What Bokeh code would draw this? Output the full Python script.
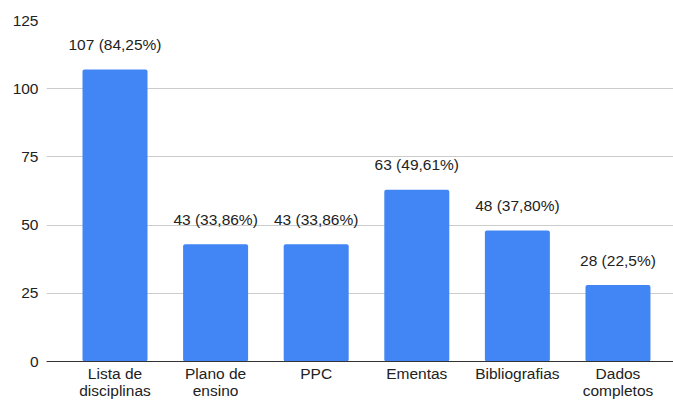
from bokeh.plotting import figure
from bokeh.models import ColumnDataSource, FixedTicker, Range1d
from bokeh.embed import file_html
from bokeh.resources import INLINE
from bokeh.core.properties import value

categories = ["Lista de\ndisciplinas", "Plano de\nensino", "PPC", "Ementas", "Bibliografias", "Dados\ncompletos"]
counts = [107, 43, 43, 63, 48, 28]
labels = ["107 (84,25%)", "43 (33,86%)", "43 (33,86%)", "63 (49,61%)", "48 (37,80%)", "28 (22,5%)"]
y_ticks = [0, 25, 50, 75, 100, 125]

FONT = "Liberation Sans"
FS = "15.5px"

xs = list(range(len(categories)))
src = ColumnDataSource(dict(x=xs, top=counts, label=labels))

p = figure(width=673, height=401, output_backend="svg", toolbar_location=None,
           x_range=Range1d(-0.681, 5.552), y_range=Range1d(0, 125),
           min_border_left=46, min_border_right=0, min_border_top=20, min_border_bottom=39)
p.outline_line_color = None
p.background_fill_color = "white"
p.border_fill_color = "white"

p.vbar(x="x", top="top", width=0.646, bottom=0, source=src, fill_color="#4285F4",
       line_color=None, border_radius=2)
p.text(x="x", y="top", text="label", source=src, text_align="center", text_baseline="alphabetic",
       y_offset=-25, text_font=value(FONT), text_font_size=FS, text_color="#222222")

p.xaxis.ticker = FixedTicker(ticks=xs)
p.xaxis.major_label_overrides = {i: c for i, c in enumerate(categories)}
p.xaxis.major_tick_line_color = None
p.xaxis.major_tick_out = 0
p.xaxis.major_tick_in = 0
p.xaxis.minor_tick_line_color = None
p.xaxis.minor_tick_out = 0
p.xaxis.axis_label_standoff = 0
p.xaxis.axis_line_color = "#333333"
p.xaxis.axis_line_width = 1
p.xaxis.major_label_text_font = FONT
p.xaxis.major_label_text_font_size = FS
p.xaxis.major_label_text_color = "#222222"
p.xaxis.major_label_text_line_height = 1.0
p.xaxis.major_label_standoff = 3
p.xgrid.grid_line_color = None

p.yaxis.ticker = FixedTicker(ticks=y_ticks)
p.yaxis.axis_line_color = None
p.yaxis.major_tick_line_color = None
p.yaxis.major_tick_out = 0
p.yaxis.major_tick_in = 0
p.yaxis.minor_tick_line_color = None
p.yaxis.minor_tick_out = 0
p.yaxis.axis_label_standoff = 0
p.yaxis.major_label_text_font = FONT
p.yaxis.major_label_text_font_size = FS
p.yaxis.major_label_text_color = "#222222"
p.yaxis.major_label_standoff = 8
p.ygrid.grid_line_color = "#cccccc"
p.ygrid.ticker = FixedTicker(ticks=y_ticks)

open("out.html", "w").write(file_html(p, INLINE))
